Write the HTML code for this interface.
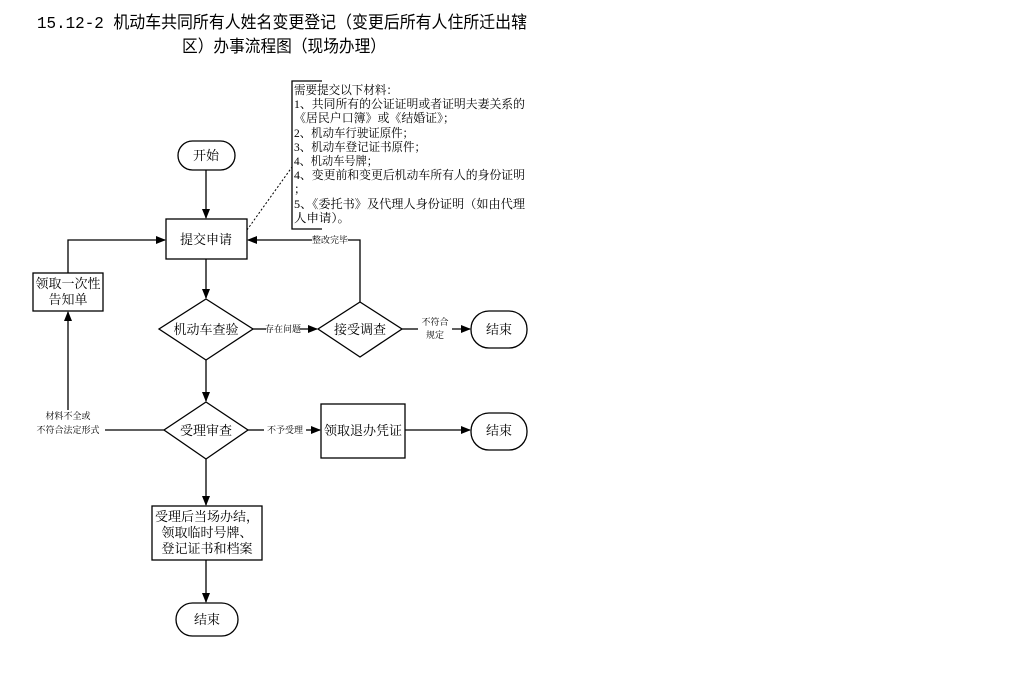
<!DOCTYPE html>
<html><head><meta charset="utf-8"><style>
body{margin:0;background:#fff;width:1028px;height:677px;overflow:hidden}
svg text{font-family:"Liberation Serif","Noto Serif CJK SC","Noto Sans CJK SC",serif;fill:#000}
.t{font-family:"Liberation Mono","Noto Sans CJK SC",sans-serif}
</style></head><body>
<svg width="1028" height="677" viewBox="0 0 1028 677" xmlns="http://www.w3.org/2000/svg">
<defs><marker id="a" markerWidth="10" markerHeight="8" refX="9" refY="4" orient="auto" markerUnits="userSpaceOnUse"><path d="M0,0 L10,4 L0,8z" fill="#000"/></marker></defs>
<text class="t" x="37" y="28" font-size="17" textLength="490" lengthAdjust="spacingAndGlyphs">15.12-2  机动车共同所有人姓名变更登记（变更后所有人住所迁出辖</text>
<text class="t" x="182" y="52" font-size="17" textLength="204" lengthAdjust="spacingAndGlyphs">区）办事流程图（现场办理）</text>
<g stroke="#000" stroke-width="1.3" fill="none">
<rect x="178" y="141" width="57" height="29" rx="14.5"/>
<rect x="166" y="219" width="81" height="40"/>
<path d="M322,81 H292 V229 H322"/>
<path d="M247,230 L292,167" stroke-dasharray="2,2" stroke-width="1"/>
<polygon points="206,299 253,329 206,360 159,329"/>
<polygon points="360,302 402,329 360,357 318,329"/>
<rect x="471" y="311" width="56" height="37" rx="18"/>
<polygon points="206,402 248,430 206,459 164,430"/>
<rect x="321" y="404" width="84" height="54"/>
<rect x="471" y="413" width="56" height="37" rx="18"/>
<rect x="33" y="273" width="70" height="38"/>
<rect x="152" y="506" width="110" height="54"/>
<rect x="176" y="603" width="62" height="33" rx="16.5"/>
<path d="M206,170 V218" marker-end="url(#a)"/>
<path d="M206,259 V298" marker-end="url(#a)"/>
<path d="M206,360 V401" marker-end="url(#a)"/>
<path d="M206,459 V505" marker-end="url(#a)"/>
<path d="M206,560 V602" marker-end="url(#a)"/>
<path d="M253,329 H266"/>
<path d="M300,329 H317" marker-end="url(#a)"/>
<path d="M402,329 H418"/>
<path d="M452,329 H470" marker-end="url(#a)"/>
<path d="M360,302 V240 H348"/>
<path d="M312,240 H248" marker-end="url(#a)"/>
<path d="M248,430 H264"/>
<path d="M306,430 H320" marker-end="url(#a)"/>
<path d="M405,430 H470" marker-end="url(#a)"/>
<path d="M164,430 H105"/>
<path d="M68,410 V312" marker-end="url(#a)"/>
<path d="M68,273 V240 H165" marker-end="url(#a)"/>
</g>
<g font-size="12">
<text x="294" y="94" textLength="104" lengthAdjust="spacingAndGlyphs">需要提交以下材料：</text>
<text x="294" y="108" textLength="231" lengthAdjust="spacingAndGlyphs">1、共同所有的公证证明或者证明夫妻关系的</text>
<text x="294" y="122" textLength="161" lengthAdjust="spacingAndGlyphs">《居民户口簿》或《结婚证》；</text>
<text x="294" y="137" textLength="120" lengthAdjust="spacingAndGlyphs">2、机动车行驶证原件；</text>
<text x="294" y="151" textLength="132" lengthAdjust="spacingAndGlyphs">3、机动车登记证书原件；</text>
<text x="294" y="165" textLength="84" lengthAdjust="spacingAndGlyphs">4、机动车号牌；</text>
<text x="294" y="179" textLength="231" lengthAdjust="spacingAndGlyphs">4、变更前和变更后机动车所有人的身份证明</text>
<text x="294" y="193">；</text>
<text x="294" y="208" textLength="231" lengthAdjust="spacingAndGlyphs">5、《委托书》及代理人身份证明（如由代理</text>
<text x="294" y="222" textLength="56" lengthAdjust="spacingAndGlyphs">人申请）。</text>
</g>
<g font-size="13" text-anchor="middle">
<text x="206" y="160">开始</text>
<text x="206" y="244">提交申请</text>
<text x="206" y="334">机动车查验</text>
<text x="360" y="334">接受调查</text>
<text x="499" y="334">结束</text>
<text x="206" y="435">受理审查</text>
<text x="363" y="435">领取退办凭证</text>
<text x="499" y="435">结束</text>
<text x="68" y="288">领取一次性</text>
<text x="68" y="304">告知单</text>
<text x="207" y="521">受理后当场办结，</text>
<text x="207" y="537">领取临时号牌、</text>
<text x="207" y="553">登记证书和档案</text>
<text x="207" y="624">结束</text>
</g>
<g font-size="9" text-anchor="middle">
<text x="283" y="332">存在问题</text>
<text x="330" y="243">整改完毕</text>
<text x="435" y="325">不符合</text>
<text x="435" y="338">规定</text>
<text x="285" y="433">不予受理</text>
<text x="68" y="419">材料不全或</text>
<text x="68" y="433">不符合法定形式</text>
</g>
</svg>
</body></html>
